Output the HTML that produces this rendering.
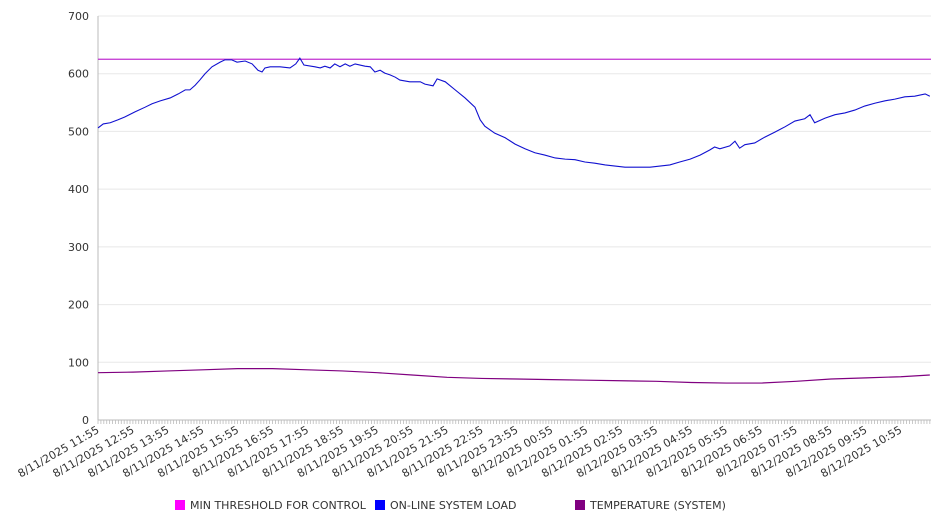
<!DOCTYPE html>
<html><head><meta charset="utf-8"><style>
body{margin:0;background:#fff;}
svg{display:block;font-family:"DejaVu Sans","Liberation Sans",sans-serif;}
</style></head><body>
<svg id="chart" width="946" height="526"></svg>
<script>
const yTicks=[0,100,200,300,400,500,600,700];
const xLabels=["8/11/2025 11:55","8/11/2025 12:55","8/11/2025 13:55","8/11/2025 14:55","8/11/2025 15:55","8/11/2025 16:55","8/11/2025 17:55","8/11/2025 18:55","8/11/2025 19:55","8/11/2025 20:55","8/11/2025 21:55","8/11/2025 22:55","8/11/2025 23:55","8/12/2025 00:55","8/12/2025 01:55","8/12/2025 02:55","8/12/2025 03:55","8/12/2025 04:55","8/12/2025 05:55","8/12/2025 06:55","8/12/2025 07:55","8/12/2025 08:55","8/12/2025 09:55","8/12/2025 10:55"];
const thresholdValue=625;
const loadMinutes=[0,9,21,34,46,64,81,93,107,124,138,150,158,167,175,184,196,210,218,230,239,253,265,275,282,287,296,313,330,340,347,354,373,382,390,399,407,416,425,433,442,459,468,476,485,493,502,511,519,536,554,562,576,583,597,614,631,648,657,665,682,700,717,734,751,768,786,803,820,837,854,872,889,906,923,949,966,983,1000,1018,1035,1052,1060,1069,1086,1095,1103,1112,1129,1146,1164,1181,1198,1215,1224,1232,1250,1267,1284,1301,1318,1336,1353,1370,1387,1404,1422,1430];
const loadValues=[506,513,515,520,525,534,542,548,553,558,565,572,572,580,589,600,612,620,624,624,620,622,617,606,603,610,612,612,610,617,627,615,612,610,613,610,617,612,617,613,617,613,612,603,606,601,598,594,589,586,586,582,579,591,586,572,558,542,520,509,497,489,478,470,463,459,454,452,451,447,445,442,440,438,438,438,440,442,447,452,459,468,473,470,475,483,471,477,480,490,499,508,518,522,529,515,523,529,532,537,544,549,553,556,560,561,565,561];
const tempMinutes=[0,60,120,180,240,300,360,420,480,540,600,660,720,780,840,900,960,1020,1080,1140,1200,1260,1320,1380,1430];
const tempValues=[82,83,85,87,89,89,87,85,82,78,74,72,71,70,69,68,67,65,64,64,67,71,73,75,78];

const svg=document.getElementById('chart');
const NS='http://www.w3.org/2000/svg';
const X0=98,X1=931,Y0=420,YT=16,MAXMIN=1432;
const xs=m=>X0+m*(X1-X0)/MAXMIN;
const ys=v=>Y0-v*(Y0-YT)/700;
function mk(tag,attrs,parent){const e=document.createElementNS(NS,tag);for(const k in attrs)e.setAttribute(k,attrs[k]);(parent||svg).appendChild(e);return e;}

yTicks.forEach(t=>{
  const g=mk('line',{x1:X0,x2:X1,y1:ys(t),y2:ys(t),stroke:t===0?'#bbb':'#e8e8e8','stroke-width':1});
  
  
  const tx=mk('text',{x:89,y:ys(t)+4,'text-anchor':'end','font-size':11,fill:'#333'});
  tx.textContent=t;
  
  
});
const ax=mk('line',{x1:X0,x2:X0,y1:YT,y2:Y0,stroke:'#bbb'});


for(let m=0;m<=1430;m+=5){
  const t=mk('line',{x1:xs(m),x2:xs(m),y1:Y0,y2:Y0+4,stroke:'#bbb','stroke-width':0.8});
  
  
}
xLabels.forEach((l,i)=>{
  const x=xs(i*60)+2;
  const t=mk('text',{x:x,y:Y0+12,'text-anchor':'end','font-size':11,fill:'#333',transform:`rotate(-30 ${x} ${Y0+12})`});
  t.textContent=l;
  
  
});
const th=mk('line',{x1:X0,x2:X1,y1:ys(thresholdValue),y2:ys(thresholdValue),stroke:'#c030d0','stroke-width':1.2});


const lp=mk('polyline',{points:loadMinutes.map((m,i)=>xs(m)+','+ys(loadValues[i])).join(' '),fill:'none',stroke:'#1010d0','stroke-width':1.1});


const tp=mk('polyline',{points:tempMinutes.map((m,i)=>xs(m)+','+ys(tempValues[i])).join(' '),fill:'none',stroke:'#800080','stroke-width':1.2});



const legend=[["MIN THRESHOLD FOR CONTROL","#ff00ff",175],["ON-LINE SYSTEM LOAD","#0000ff",375],["TEMPERATURE (SYSTEM)","#800080",575]];
legend.forEach(([n,c,x])=>{
  const r=mk('rect',{x:x,y:500,width:10,height:10,fill:c});
  
  
  const t=mk('text',{x:x+15,y:509,'font-size':11,fill:'#333'});
  t.textContent=n;
  
  
});
</script>
</body></html>
